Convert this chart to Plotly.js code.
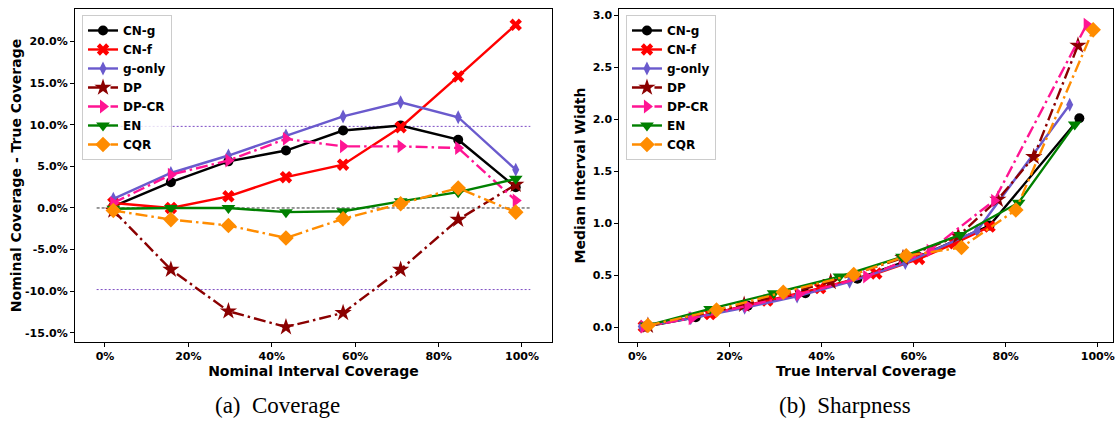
<!DOCTYPE html>
<html>
<head>
<meta charset="utf-8">
<script src="https://cdn.plot.ly/plotly-3.0.1.min.js"></script>
<style>html,body{margin:0;padding:0;background:#fff;}#chart{width:1119px;height:421px;}</style>
</head>
<body>
<div id="chart"></div>
<script>
// ---- data ----
const methods = ["CN-g", "CN-f", "g-only", "DP", "DP-CR", "EN", "CQR"];
const nominal = [2, 15.8, 29.6, 43.4, 57.1, 70.9, 84.7, 98.5];

const cngDiff   = [0.2, 3.1, 5.6, 6.9, 9.3, 9.9, 8.2, 2.5];
const cnfDiff   = [0.6, 0.0, 1.4, 3.7, 5.2, 9.7, 15.8, 22.0];
const gonlyDiff = [1.1, 4.2, 6.3, 8.7, 11.0, 12.7, 10.9, 4.6];
const dpDiff    = [-0.3, -7.4, -12.4, -14.3, -12.6, -7.4, -1.4, 2.8];
const dpcrDiff  = [0.6, 4.0, 5.7, 8.3, 7.4, 7.4, 7.2, 0.9];
const enDiff    = [-0.1, 0.0, 0.0, -0.5, -0.4, 0.8, 1.9, 3.5];
const cqrDiff   = [-0.3, -1.4, -2.1, -3.6, -1.3, 0.5, 2.4, -0.5];

const cngTrue   = [1.8, 12.7, 24.0, 36.5, 47.8, 61.0, 76.5, 96.0];
const cngWidth  = [0.01, 0.10, 0.21, 0.33, 0.47, 0.68, 0.98, 2.01];
const cnfTrue   = [1.4, 15.8, 28.2, 39.7, 51.9, 61.2, 68.9, 76.5];
const cnfWidth  = [0.01, 0.13, 0.26, 0.38, 0.52, 0.66, 0.81, 0.97];
const gonlyTrue = [0.9, 11.6, 23.3, 34.7, 46.1, 58.2, 73.8, 93.9];
const gonlyWidth= [0.01, 0.09, 0.19, 0.30, 0.44, 0.62, 0.93, 2.14];
const dpTrue    = [2.3, 23.2, 42.0, 57.7, 69.7, 78.3, 86.1, 95.7];
const dpWidth   = [0.02, 0.22, 0.44, 0.67, 0.88, 1.23, 1.64, 2.71];
const dpcrTrue  = [1.4, 11.8, 23.9, 35.1, 49.7, 63.5, 77.5, 97.6];
const dpcrWidth = [0.01, 0.09, 0.21, 0.32, 0.49, 0.74, 1.22, 2.91];
const enTrue    = [2.1, 15.8, 29.6, 43.9, 57.5, 70.1, 82.8, 95.0];
const enWidth   = [0.02, 0.18, 0.33, 0.49, 0.68, 0.89, 1.20, 1.95];
const cqrTrue   = [2.3, 17.2, 31.7, 47.0, 58.4, 70.4, 82.2, 99.0];
const cqrWidth  = [0.02, 0.17, 0.34, 0.51, 0.69, 0.77, 1.13, 2.86];

const refBand = 9.8;
const pctTicks = [0, 20, 40, 60, 80, 100];
const pctTickText = ["0%", "20%", "40%", "60%", "80%", "100%"];
const leftYTicks = [-15, -10, -5, 0, 5, 10, 15, 20];
const leftYTickText = ["-15.0%", "-10.0%", "-5.0%", "0.0%", "5.0%", "10.0%", "15.0%", "20.0%"];
const rightYTicks = [0, 0.5, 1.0, 1.5, 2.0, 2.5, 3.0];
const rightYTickText = ["0.0", "0.5", "1.0", "1.5", "2.0", "2.5", "3.0"];

// ---- styles ----
const DD = "12px,4px,2.5px,4px";
const styles = [
  {color: "#000000", dash: "solid", symbol: "circle", size: 10},
  {color: "#ff0000", dash: "solid", symbol: "x", size: 11},
  {color: "#6a5acd", dash: "solid", symbol: "diamond-tall", size: 10},
  {color: "#8b0000", dash: DD, symbol: "star", size: 13},
  {color: "#ff1493", dash: DD, symbol: "triangle-right", size: 12},
  {color: "#008000", dash: "solid", symbol: "triangle-down", size: 12},
  {color: "#ff8c00", dash: DD, symbol: "diamond", size: 12}
];
const leftY = [cngDiff, cnfDiff, gonlyDiff, dpDiff, dpcrDiff, enDiff, cqrDiff];
const rightX = [cngTrue, cnfTrue, gonlyTrue, dpTrue, dpcrTrue, enTrue, cqrTrue];
const rightY = [cngWidth, cnfWidth, gonlyWidth, dpWidth, dpcrWidth, enWidth, cqrWidth];

const traces = [];
methods.forEach((m, i) => {
  const s = styles[i];
  traces.push({
    x: nominal, y: leftY[i], name: m, type: "scatter", mode: "lines+markers",
    xaxis: "x", yaxis: "y", legend: "legend",
    line: {color: s.color, width: 2.4, dash: s.dash},
    marker: {color: s.color, symbol: s.symbol, size: s.size}
  });
});
methods.forEach((m, i) => {
  const s = styles[i];
  traces.push({
    x: rightX[i], y: rightY[i], name: m, type: "scatter", mode: "lines+markers",
    xaxis: "x2", yaxis: "y2", legend: "legend2",
    line: {color: s.color, width: 2.4, dash: s.dash},
    marker: {color: s.color, symbol: s.symbol, size: s.size}
  });
});

const FONT = "DejaVu Sans, sans-serif";
const tickFont = {family: FONT, size: 11, color: "#000", weight: "bold"};
const titleFont = {family: FONT, size: 14, color: "#000", weight: "bold"};
const axisCommon = {
  showgrid: false, zeroline: false, showline: true, mirror: true,
  linecolor: "#000", linewidth: 1, ticks: "outside", ticklen: 4, tickcolor: "#000",
  tickfont: tickFont, tickmode: "array"
};

const layout = {
  width: 1119, height: 421,
  margin: {l: 0, r: 0, t: 9, b: 79},
  paper_bgcolor: "#fff", plot_bgcolor: "#fff",
  showlegend: true,
  xaxis: Object.assign({}, axisCommon, {
    domain: [0.067, 0.4933], range: [-7.2, 107.2], tickvals: pctTicks, ticktext: pctTickText,
    title: {text: "Nominal Interval Coverage", font: titleFont, standoff: 2}, anchor: "y"
  }),
  yaxis: Object.assign({}, axisCommon, {
    domain: [0, 1], range: [-16.1, 23.9], tickvals: leftYTicks, ticktext: leftYTickText,
    title: {text: "Nominal Coverage - True Coverage", font: titleFont, standoff: 0}, anchor: "x"
  }),
  xaxis2: Object.assign({}, axisCommon, {
    domain: [0.5535, 0.9946], range: [-3.9, 103.3], tickvals: pctTicks, ticktext: pctTickText,
    title: {text: "True Interval Coverage", font: titleFont, standoff: 2}, anchor: "y2"
  }),
  yaxis2: Object.assign({}, axisCommon, {
    domain: [0, 1], range: [-0.138, 3.06], tickvals: rightYTicks, ticktext: rightYTickText,
    title: {text: "Median Interval Width", font: titleFont, standoff: 3}, anchor: "x2"
  }),
  legend: {
    x: 0.0733, y: 0.982, xanchor: "left", yanchor: "top",
    bgcolor: "rgba(255,255,255,0.8)", bordercolor: "#cccccc", borderwidth: 1,
    font: {family: FONT, size: 12, color: "#000", weight: "bold"},
    itemwidth: 30, tracegroupgap: 0
  },
  legend2: {
    x: 0.5594, y: 0.982, xanchor: "left", yanchor: "top",
    bgcolor: "rgba(255,255,255,0.8)", bordercolor: "#cccccc", borderwidth: 1,
    font: {family: FONT, size: 12, color: "#000", weight: "bold"},
    itemwidth: 30, tracegroupgap: 0
  },
  shapes: [
    {type: "line", xref: "x", yref: "y", x0: -2, x1: 102, y0: refBand, y1: refBand,
     line: {color: "#7d4cc4", width: 1, dash: "2px,2px"}, layer: "below"},
    {type: "line", xref: "x", yref: "y", x0: -2, x1: 102, y0: -refBand, y1: -refBand,
     line: {color: "#7d4cc4", width: 1, dash: "2px,2px"}, layer: "below"},
    {type: "line", xref: "x", yref: "y", x0: -2, x1: 102, y0: 0, y1: 0,
     line: {color: "#333333", width: 1, dash: "3px,2px"}, layer: "below"}
  ],
  annotations: [
    {text: "(a)  Coverage", xref: "paper", yref: "paper", x: 277/1119, y: -0.19, xanchor: "center", yanchor: "middle",
     showarrow: false, font: {family: "Liberation Serif, Times New Roman, serif", size: 23, color: "#000"}},
    {text: "(b)  Sharpness", xref: "paper", yref: "paper", x: 845/1119, y: -0.19, xanchor: "center", yanchor: "middle",
     showarrow: false, font: {family: "Liberation Serif, Times New Roman, serif", size: 23, color: "#000"}}
  ]
};

Plotly.newPlot("chart", traces, layout, {displayModeBar: false, staticPlot: true});
</script>
</body>
</html>
